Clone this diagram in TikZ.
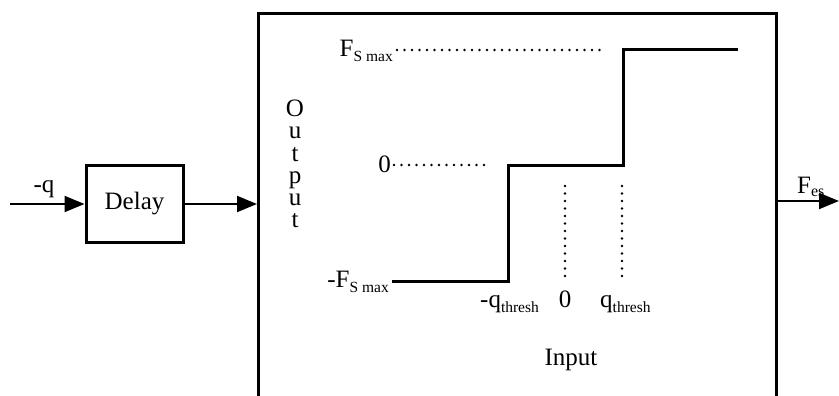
\documentclass[tikz,border=0pt]{standalone}
\usepackage{fontspec}
\setmainfont{Liberation Serif}
\usetikzlibrary{arrows.meta}
\newcommand\subtxt[1]{\raisebox{-5pt}{\fontsize{15.5}{16}\selectfont #1}}
\begin{document}
\begin{tikzpicture}[x=1pt,y=-1pt,
  font=\fontsize{25}{30}\selectfont,
  blk/.style={draw, line width=3pt, inner sep=0pt},
  sig/.style={line width=2pt, -{Triangle[length=20pt,width=16pt]}},
  stair/.style={line width=3pt},
  guide/.style={line width=2.6pt, dash pattern=on 0pt off 7.5pt, line cap=round},
  lbl/.style={inner sep=0pt}]
\clip (0,0) rectangle (839,396);
% blocks
\node[blk, minimum width=97pt, minimum height=77pt] (delay) at (134.5,203.5) {Delay};
\node[blk, minimum width=518pt, minimum height=430pt, anchor=north west] (sys) at (257,12) {};
% signal connectors
\coordinate (qin) at (10,204);
\coordinate (fout) at (839,201);
\draw[sig] (qin) -- (delay.west |- qin);
\draw[sig] (delay.east |- qin) -- (sys.west |- qin);
\draw[sig] (sys.east |- fout) -- (fout);
\node[lbl, anchor=base] (qlbl) at (44,192) {-q};
\node[lbl, anchor=base west] (feslbl) at (797,193) {F\raisebox{-4pt}{\fontsize{16}{17}\selectfont es}};
% staircase characteristic
\draw[stair] (392,281) -| (508,165) -| (623,50) -- (738,50);
% guides
\draw[guide] (397,50) -- (603,50);
\draw[guide] (394,165) -- (490,165);
\draw[guide] (565,186) -- (565,281);
\draw[guide] (622,186) -- (622,281);
% labels
\node[lbl, anchor=base east] (fmax) at (393,57) {F\subtxt{S max}};
\node[lbl, anchor=base east] (zeroy) at (391,172) {0};
\node[lbl, anchor=base east] (fmin) at (389,287) {-F\subtxt{S max}};
\node[lbl, anchor=base west] (qneg) at (480,307) {-q\subtxt{thresh}};
\node[lbl, anchor=base] (zerox) at (565,307) {0};
\node[lbl, anchor=base west] (qpos) at (600,307) {q\subtxt{thresh}};
\node[lbl, anchor=base] (inlbl) at (571,365) {Input};
\node[lbl, align=center, font=\fontsize{25}{22.2}\selectfont] (outlbl) at (295,164) {O\\u\\t\\p\\u\\t};
\end{tikzpicture}
\end{document}
